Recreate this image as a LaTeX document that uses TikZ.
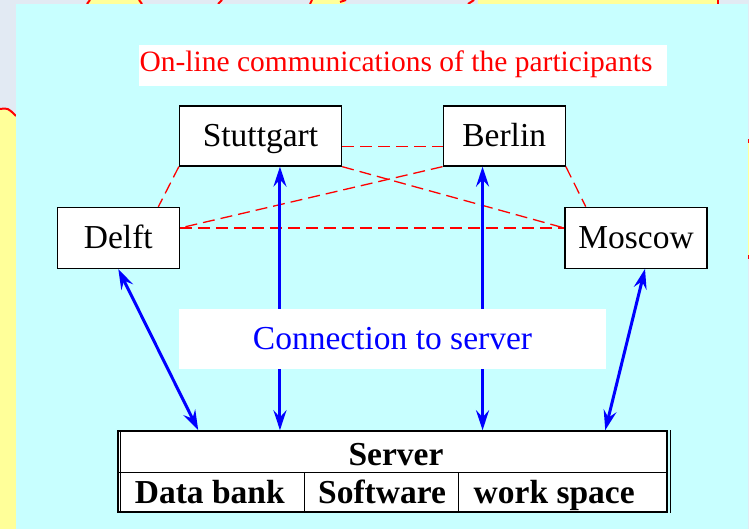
\documentclass[tikz,border=0pt]{standalone}
\usepackage{fontspec}
\setmainfont{Liberation Serif}
\usetikzlibrary{arrows.meta,calc}
\definecolor{cyanbg}{RGB}{200,255,255}
\definecolor{slidebg}{RGB}{226,234,243}
\definecolor{yel}{RGB}{255,255,153}
\definecolor{linkred}{RGB}{255,0,0}
\begin{document}
\begin{tikzpicture}[x=1pt,y=-1pt,
  city/.style={draw=black, line width=1.3pt, fill=white, inner sep=0pt,
    font=\fontsize{33.5}{40}\selectfont, text height=22pt, text depth=0pt},
  plainbox/.style={fill=white, inner sep=0pt},
  link/.style={draw=linkred, line width=1.3pt, dash pattern=on 12pt off 6pt},
  conn/.style={draw=blue, line width=3pt,
    arrows={Stealth[length=20pt,width=13pt,inset=7pt]-Stealth[length=20pt,width=13pt,inset=7pt]}},
  cell/.style={inner sep=0pt, font=\fontsize{33.5}{40}\selectfont\bfseries},
  tabline/.style={draw=black, line width=1pt},
  edge/.style={draw=red, line width=2pt}]
\useasboundingbox (0,0) rectangle (749,529);
% slide background
\fill[slidebg] (0,0) rectangle (749,529);
\fill[yel] (0,110) .. controls (8,109) .. (16,117) -- (16,529) -- (0,529) -- cycle;
\draw[edge] (0,109) .. controls (8,108) .. (16,116);
\fill[yel] (88,0) rectangle (142,4);
\draw[edge] (87,4) -- (90,0);
\draw[edge] (142,4) -- (139,0);
\draw[edge] (218,4) -- (222,0);
\fill[yel] (310,0) rectangle (345,4);
\draw[edge] (310,4) -- (312,0);
\draw[edge] (340,2) -- (346,0);
\draw[edge] (468,4) -- (474,0);
\fill[yel] (478,0) rectangle (717,4);
\draw[edge] (718,0) -- (718,4);
\fill[yel] (747.5,141) rectangle (749,257);
\draw[edge] (748.5,139) -- (748.5,143);
\draw[edge] (748.5,255) -- (748.5,259);
% cyan panel
\fill[cyanbg] (16,4) rectangle (747.5,529);

% title
\node[plainbox, minimum width=528pt, minimum height=41pt] (titlebg) at (403,65.5) {};
\node[inner sep=0pt, text=red, font=\fontsize{29.5}{35}\selectfont, anchor=base] (title) at (396,71.5) {On-line communications of the participants};

% cities
\node[city, minimum width=162pt, minimum height=60pt] (stuttgart) at (260.5,136) {Stuttgart};
\node[city, minimum width=122pt, minimum height=60pt] (berlin) at (504.2,136) {Berlin};
\node[city, minimum width=122pt, minimum height=61pt] (delft) at (118.3,238) {Delft};
\node[city, minimum width=142pt, minimum height=61pt] (moscow) at (636,237.7) {Moscow};

% server
\node[draw=black, line width=1.5pt, fill=white, inner sep=0pt, minimum width=549pt, minimum height=81pt] (server) at (392.5,471.5) {};

% red dashed links
\coordinate (dE) at ($(delft.east)+(0,-10)$);
\coordinate (mW) at ($(moscow.west)+(0,-9.7)$);
\coordinate (dN) at ($(delft.north)+(40,0)$);
\coordinate (mN) at ($(moscow.north)+(-50.3,0)$);
\coordinate (sE) at ($(stuttgart.east)+(0,10.7)$);
\coordinate (bW) at ($(berlin.west)+(0,10.7)$);
\draw[link] (sE) -- (bW);
\draw[link] (stuttgart.south west) -- (dN);
\draw[link] (stuttgart.south east) -- (mW);
\draw[link] (berlin.south west) -- (dE);
\draw[link] (dE) -- (mW);
\draw[link] (berlin.south east) -- (mN);

% blue connections
\coordinate (s1) at ($(server.north west)+(81,0)$);
\coordinate (s2) at ($(server.north west)+(162.7,0)$);
\coordinate (s3) at ($(server.north west)+(365.3,0)$);
\coordinate (s4) at ($(server.north west)+(488,0)$);
\coordinate (mS) at ($(moscow.south)+(9,0)$);
\draw[conn] (delft.south) -- (s1);
\draw[conn] (s2 |- stuttgart.south) -- (s2);
\draw[conn] (s3 |- berlin.south) -- (s3);
\draw[conn] (mS) -- (s4);

% connection label
\node[plainbox, minimum width=426.4pt, minimum height=60pt] (connbg) at (392.5,339.3) {};
\node[inner sep=0pt, text=blue, font=\fontsize{33.5}{40}\selectfont, anchor=base] (connlabel) at (392.5,349.3) {Connection to server};

% server table lines
\draw[tabline] ($(server.west)+(0,0.8)$) -- ($(server.east)+(0,0.8)$);
\draw[tabline] ($(server.north west)+(3,0)$) -- ($(server.south west)+(3,0)$);
\draw[tabline] ($(server.north east)+(3,0)$) -- ($(server.south east)+(3,0)$);
\draw[tabline] ($(server.south west)+(187.2,0)$) -- ($(server.south west)+(187.2,-40)$);
\draw[tabline] ($(server.south west)+(341,0)$) -- ($(server.south west)+(341,-40)$);
\node[cell, anchor=base] (srvtitle) at (396,465) {Server};
\node[cell, anchor=base west] (databank) at (134.7,503) {Data bank};
\node[cell, anchor=base west] (software) at (318,503) {Software};
\node[cell, anchor=base west] (workspace) at (473.5,503) {work space};
\end{tikzpicture}
\end{document}
